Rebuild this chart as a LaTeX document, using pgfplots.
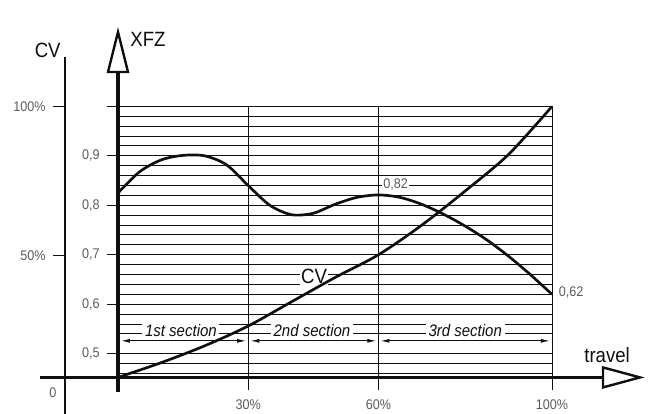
\documentclass[border=0pt]{standalone}
\usepackage{pgfplots}
\pgfplotsset{compat=1.18}
\usepackage{fontspec}
\setmainfont{Liberation Sans}[FakeStretch=0.9]
\usetikzlibrary{arrows.meta}
\definecolor{lab}{gray}{0.36}
\definecolor{ink}{gray}{0.06}
\newcommand{\fsmall}{\fontsize{10.5}{12}\selectfont}
\newcommand{\fbig}{\fontsize{15.5}{18}\selectfont}
\newcommand{\fsec}{\fontsize{12.5}{14}\selectfont\itshape}
\begin{document}
\begin{tikzpicture}
\begin{axis}[
  scale only axis, width=325.5pt, height=203.25pt,
  xmin=0, xmax=100, ymin=0.452, ymax=1.0,
  axis lines=none, clip=false,
]
% bounding box corners
\coordinate (bl) at (axis cs:-27.19,0.3788);
\coordinate (tr) at (axis cs:122.12,1.2152);
% horizontal grid
\pgfplotsinvokeforeach{0.46,0.48,0.50,0.54,0.56,0.58,0.60,0.62,0.64,0.66,0.68,0.70,0.72,0.74,0.76,0.78,0.80,0.82,0.84,0.86,0.88,0.90,0.92,0.94,0.96,0.98,1.00}{
  \draw[line width=0.75pt, ink] (axis cs:0,#1) -- (axis cs:100,#1);
}
% vertical grid lines / ticks
\pgfplotsinvokeforeach{30,60,100}{
  \draw[line width=0.75pt, ink] (axis cs:#1,0.4273) -- (axis cs:#1,1.0);
}
% XFZ ticks
\pgfplotsinvokeforeach{0.5,0.6,0.7,0.8,0.9,1.0}{
  \draw[line width=0.75pt, ink] (axis cs:-2.53,#1) -- (axis cs:0,#1);
}
\node[anchor=east, inner sep=0pt, text=lab, font=\fsmall] at (axis cs:-4.15,0.9) {0,9};
\node[anchor=east, inner sep=0pt, text=lab, font=\fsmall] at (axis cs:-4.15,0.8) {0,8};
\node[anchor=east, inner sep=0pt, text=lab, font=\fsmall] at (axis cs:-4.15,0.7) {0,7};
\node[anchor=east, inner sep=0pt, text=lab, font=\fsmall] at (axis cs:-4.15,0.6) {0,6};
\node[anchor=east, inner sep=0pt, text=lab, font=\fsmall] at (axis cs:-4.15,0.5) {0,5};
% section dimension lines
\draw[line width=0.9pt, ink, {Latex[length=7pt,width=3pt]}-{Latex[length=7pt,width=3pt]}] (axis cs:0.6,0.526) -- (axis cs:29.6,0.526);
\draw[line width=0.9pt, ink, {Latex[length=7pt,width=3pt]}-{Latex[length=7pt,width=3pt]}] (axis cs:30.4,0.526) -- (axis cs:59.6,0.526);
\draw[line width=0.9pt, ink, {Latex[length=7pt,width=3pt]}-{Latex[length=7pt,width=3pt]}] (axis cs:60.4,0.526) -- (axis cs:99.6,0.526);
\node[fill=white, inner xsep=2pt, inner ysep=3pt, text=ink, font=\fsec] at (axis cs:14.5,0.5475) {1st section};
\node[fill=white, inner xsep=2pt, inner ysep=3pt, text=ink, font=\fsec] at (axis cs:44.7,0.5475) {2nd section};
\node[fill=white, inner xsep=2pt, inner ysep=3pt, text=ink, font=\fsec] at (axis cs:80.0,0.5475) {3rd section};
% value labels
\node[anchor=west, fill=white, inner sep=1pt, text=lab, font=\fsmall] at (axis cs:60.8,0.8414) {0,82};
\node[anchor=west, inner sep=1pt, text=lab, font=\fsmall] at (axis cs:101.2,0.623) {0,62};
\node[fill=white, inner sep=1pt, text=ink, font=\fbig] at (axis cs:45.2,0.656) {CV};
% XFZ curve
\addplot[ink, line width=2pt, smooth] coordinates {
  (0,0.825) (5,0.868) (10,0.892) (15,0.901) (20,0.900) (25,0.882)
  (30,0.840) (35,0.800) (40,0.781) (45,0.784) (50,0.802) (55,0.816)
  (60,0.821) (65,0.816) (70,0.802) (75,0.782) (80,0.758) (85,0.730)
  (90,0.697) (95,0.660) (100,0.620)
};
% CV curve (drawn in the XFZ scale of the picture: CV 0 = 0.452, 50% = 0.698, 100% = 1.0)
\addplot[ink, line width=2pt, smooth] coordinates {
  (0,0.452) (10,0.482) (20,0.516) (30,0.556) (40,0.605) (50,0.654)
  (60,0.700) (70,0.760) (80,0.829) (90,0.903) (100,1.0)
};
% CV axis
\draw[line width=2pt, ink] (axis cs:-12.21,0.3788) -- (axis cs:-12.21,1.100);
\draw[line width=0.75pt, ink] (axis cs:-14.98,1.0) -- (axis cs:-12.21,1.0);
\draw[line width=0.75pt, ink] (axis cs:-14.98,0.698) -- (axis cs:-12.21,0.698);
\node[anchor=east, inner sep=0pt, text=lab, font=\fsmall] at (axis cs:-16.6,1.0) {100\%};
\node[anchor=east, inner sep=0pt, text=lab, font=\fsmall] at (axis cs:-16.6,0.698) {50\%};
\node[text=lab, font=\fsmall] at (axis cs:-14.98,0.421) {0};
\node[text=ink, font=\fbig] at (axis cs:-16.2,1.114) {CV};
% XFZ axis with open arrow
\draw[line width=2.5pt, ink] (axis cs:0,0.4232) -- (axis cs:0,1.0697);
\draw[line width=1.8pt, ink, fill=white, line join=miter] (axis cs:-2.3,1.0697) -- (axis cs:0,1.1505) -- (axis cs:2.3,1.0697) -- cycle;
\node[text=ink, font=\fbig] at (axis cs:6.9,1.136) {XFZ};
% travel axis with open arrow
\draw[line width=2.5pt, ink] (axis cs:-17.97,0.452) -- (axis cs:111.75,0.452);
\draw[line width=1.8pt, ink, fill=white, line join=miter] (axis cs:111.75,0.4318) -- (axis cs:120.28,0.452) -- (axis cs:111.75,0.4722) -- cycle;
\node[text=ink, font=\fbig] at (axis cs:112.7,0.498) {travel};
% x tick labels
\node[text=lab, font=\fsmall] at (axis cs:30,0.397) {30\%};
\node[text=lab, font=\fsmall] at (axis cs:60,0.397) {60\%};
\node[text=lab, font=\fsmall] at (axis cs:100,0.397) {100\%};
\end{axis}
\pgfresetboundingbox
\path (bl) rectangle (tr);
\end{tikzpicture}
\end{document}
